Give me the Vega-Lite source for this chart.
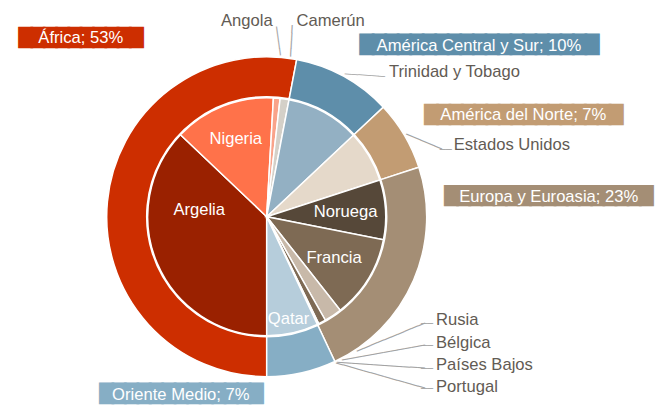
{
  "$schema": "https://vega.github.io/schema/vega-lite/v6.json",
  "width": 533.4,
  "height": 398.6,
  "autosize": {"type": "none"},
  "padding": {"left": 0, "top": 17.4, "right": 125.6, "bottom": 0},
  "background": "#ffffff",
  "config": {"view": {"stroke": null}},
  "datasets": {
    "regions": [
      {"region": "África", "label": "África; 53%", "pct": 53, "idx": 1},
      {"region": "América Central y Sur", "label": "América Central y Sur; 10%", "pct": 10, "idx": 2},
      {"region": "América del Norte", "label": "América del Norte; 7%", "pct": 7, "idx": 3},
      {"region": "Europa y Euroasia", "label": "Europa y Euroasia; 23%", "pct": 23, "idx": 4},
      {"region": "Oriente Medio", "label": "Oriente Medio; 7%", "pct": 7, "idx": 5}
    ],
    "countries": [
      {"country": "Argelia", "region": "África", "pct": 37.1, "idx": 1},
      {"country": "Nigeria", "region": "África", "pct": 13.8, "idx": 2},
      {"country": "Angola", "region": "África", "pct": 0.9, "idx": 3},
      {"country": "Camerún", "region": "África", "pct": 1.2, "idx": 4},
      {"country": "Trinidad y Tobago", "region": "América Central y Sur", "pct": 10, "idx": 5},
      {"country": "Estados Unidos", "region": "América del Norte", "pct": 7, "idx": 6},
      {"country": "Noruega", "region": "Europa y Euroasia", "pct": 8.1, "idx": 7},
      {"country": "Francia", "region": "Europa y Euroasia", "pct": 11.3, "idx": 8},
      {"country": "Rusia", "region": "Europa y Euroasia", "pct": 2.4, "idx": 9},
      {"country": "Bélgica", "region": "Europa y Euroasia", "pct": 1.0, "idx": 10},
      {"country": "Países Bajos", "region": "Europa y Euroasia", "pct": 0.1, "idx": 11},
      {"country": "Portugal", "region": "Europa y Euroasia", "pct": 0.1, "idx": 12},
      {"country": "Qatar", "region": "Oriente Medio", "pct": 7, "idx": 13}
    ]
  },
  "layer": [
    {"data": {"name": "regions"}, "mark": {"type": "arc", "outerRadius": 160, "innerRadius": 120, "stroke": "#ffffff", "strokeWidth": 1.5},
     "encoding": {"theta": {"field": "pct", "type": "quantitative", "stack": true, "scale": {"domain": [0, 100], "range": [3.141592653589793, 9.42477796076938]}},
       "order": {"field": "idx", "type": "quantitative"},
       "color": {"field": "region", "type": "nominal", "legend": null, "scale": {"domain": ["África", "América Central y Sur", "América del Norte", "Europa y Euroasia", "Oriente Medio"], "range": ["#CD2E00", "#5E8EAA", "#C29C73", "#A48E75", "#86AEC5"]}}}},
    {"data": {"name": "countries"}, "mark": {"type": "arc", "outerRadius": 119, "stroke": "#ffffff", "strokeWidth": 1.5},
     "encoding": {"theta": {"field": "pct", "type": "quantitative", "stack": true, "scale": {"domain": [0, 100], "range": [3.141592653589793, 9.42477796076938]}},
       "order": {"field": "idx", "type": "quantitative"},
       "color": {"field": "country", "type": "nominal", "legend": null, "scale": {"domain": ["Argelia", "Nigeria", "Angola", "Camerún", "Trinidad y Tobago", "Estados Unidos", "Noruega", "Francia", "Rusia", "Bélgica", "Países Bajos", "Portugal", "Qatar"], "range": ["#9A2100", "#FF724A", "#F9A38A", "#D4D0C8", "#93B0C3", "#E5D9CA", "#564839", "#7E6A54", "#C8B9A9", "#7E6A54", "#A48E75", "#564839", "#B6CDDB"]}}}},
    {"data": {"name": "countries"}, "mark": {"type": "text", "radius": 84, "align": "center", "baseline": "middle", "font": "Liberation Sans", "fontSize": 16.6, "fill": "#ffffff"},
     "encoding": {"theta": {"field": "pct", "type": "quantitative", "stack": true, "scale": {"domain": [0, 100], "range": [3.141592653589793, 9.42477796076938]}}, "order": {"field": "idx", "type": "quantitative"}, "detail": {"field": "country"},
       "text": {"condition": {"test": "datum.country === 'Nigeria'", "field": "country"}, "value": ""}}},
    {"data": {"name": "countries"}, "mark": {"type": "text", "radius": 79, "align": "center", "baseline": "middle", "font": "Liberation Sans", "fontSize": 16.6, "fill": "#ffffff"},
     "encoding": {"theta": {"field": "pct", "type": "quantitative", "stack": true, "scale": {"domain": [0, 100], "range": [3.141592653589793, 9.42477796076938]}}, "order": {"field": "idx", "type": "quantitative"}, "detail": {"field": "country"},
       "text": {"condition": {"test": "datum.country === 'Noruega' || datum.country === 'Francia'", "field": "country"}, "value": ""}}},
    {"data": {"name": "countries"}, "mark": {"type": "text", "radius": 68, "dx": -5, "dy": -34, "align": "center", "baseline": "middle", "font": "Liberation Sans", "fontSize": 16.6, "fill": "#ffffff"},
     "encoding": {"theta": {"field": "pct", "type": "quantitative", "stack": true, "scale": {"domain": [0, 100], "range": [3.141592653589793, 9.42477796076938]}}, "order": {"field": "idx", "type": "quantitative"}, "detail": {"field": "country"},
       "text": {"condition": {"test": "datum.country === 'Argelia'", "field": "country"}, "value": ""}}},
    {"data": {"name": "countries"}, "mark": {"type": "text", "radius": 105, "dx": -1, "align": "center", "baseline": "middle", "font": "Liberation Sans", "fontSize": 16.6, "fill": "#ffffff"},
     "encoding": {"theta": {"field": "pct", "type": "quantitative", "stack": true, "scale": {"domain": [0, 100], "range": [3.141592653589793, 9.42477796076938]}}, "order": {"field": "idx", "type": "quantitative"}, "detail": {"field": "country"},
       "text": {"condition": {"test": "datum.country === 'Qatar'", "field": "country"}, "value": ""}}},

    {"data": {"name": "regions"}, "mark": {"type": "text", "radius": 200, "dx": -48.04, "dy": -159.64, "align": "left", "baseline": "middle", "font": "DejaVu Sans", "fontSize": 16.0, "fill": "#CD2E00", "stroke": "#CD2E00", "strokeWidth": 2.5, "strokeJoin": "miter"},
     "encoding": {"theta": {"field": "pct", "type": "quantitative", "stack": true, "scale": {"domain": [0, 100], "range": [3.141592653589793, 9.42477796076938]}}, "order": {"field": "idx", "type": "quantitative"}, "detail": {"field": "region"},
       "text": {"condition": {"test": "datum.region === 'África'", "value": "██████████"}, "value": ""}}},
    {"data": {"name": "regions"}, "mark": {"type": "text", "radius": 200, "dx": -2.5, "dy": 3.81, "align": "left", "baseline": "middle", "font": "DejaVu Sans", "fontSize": 16.28, "fill": "#5E8EAA", "stroke": "#5E8EAA", "strokeWidth": 2.5, "strokeJoin": "miter"},
     "encoding": {"theta": {"field": "pct", "type": "quantitative", "stack": true, "scale": {"domain": [0, 100], "range": [3.141592653589793, 9.42477796076938]}}, "order": {"field": "idx", "type": "quantitative"}, "detail": {"field": "region"},
       "text": {"condition": {"test": "datum.region === 'América Central y Sur'", "value": "███████████████████"}, "value": ""}}},
    {"data": {"name": "regions"}, "mark": {"type": "text", "radius": 200, "dx": -13.6, "dy": 0.35, "align": "left", "baseline": "middle", "font": "DejaVu Sans", "fontSize": 16.03, "fill": "#C29C73", "stroke": "#C29C73", "strokeWidth": 2.5, "strokeJoin": "miter"},
     "encoding": {"theta": {"field": "pct", "type": "quantitative", "stack": true, "scale": {"domain": [0, 100], "range": [3.141592653589793, 9.42477796076938]}}, "order": {"field": "idx", "type": "quantitative"}, "detail": {"field": "region"},
       "text": {"condition": {"test": "datum.region === 'América del Norte'", "value": "████████████████"}, "value": ""}}},
    {"data": {"name": "regions"}, "mark": {"type": "text", "radius": 200, "dx": -5.0, "dy": -99.9, "align": "left", "baseline": "middle", "font": "DejaVu Sans", "fontSize": 15.85, "fill": "#A48E75", "stroke": "#A48E75", "strokeWidth": 2.5, "strokeJoin": "miter"},
     "encoding": {"theta": {"field": "pct", "type": "quantitative", "stack": true, "scale": {"domain": [0, 100], "range": [3.141592653589793, 9.42477796076938]}}, "order": {"field": "idx", "type": "quantitative"}, "detail": {"field": "region"},
       "text": {"condition": {"test": "datum.region === 'Europa y Euroasia'", "value": "█████████████████"}, "value": ""}}},
    {"data": {"name": "regions"}, "mark": {"type": "text", "radius": 200, "dx": -210.1, "dy": -17.43, "align": "left", "baseline": "middle", "font": "DejaVu Sans", "fontSize": 16.23, "fill": "#86AEC5", "stroke": "#86AEC5", "strokeWidth": 2.5, "strokeJoin": "miter"},
     "encoding": {"theta": {"field": "pct", "type": "quantitative", "stack": true, "scale": {"domain": [0, 100], "range": [3.141592653589793, 9.42477796076938]}}, "order": {"field": "idx", "type": "quantitative"}, "detail": {"field": "region"},
       "text": {"condition": {"test": "datum.region === 'Oriente Medio'", "value": "█████████████"}, "value": ""}}},

    {"data": {"name": "regions"}, "mark": {"type": "text", "radius": 200, "dx": 13.2, "dy": -160.1, "align": "center", "baseline": "middle", "font": "Liberation Sans", "fontSize": 16.6, "fill": "#ffffff"},
     "encoding": {"theta": {"field": "pct", "type": "quantitative", "stack": true, "scale": {"domain": [0, 100], "range": [3.141592653589793, 9.42477796076938]}}, "order": {"field": "idx", "type": "quantitative"}, "detail": {"field": "region"},
       "text": {"condition": {"test": "datum.region === 'África'", "field": "label"}, "value": ""}}},
    {"data": {"name": "regions"}, "mark": {"type": "text", "radius": 200, "dx": 115.9, "dy": 4.4, "align": "center", "baseline": "middle", "font": "Liberation Sans", "fontSize": 16.6, "fill": "#ffffff"},
     "encoding": {"theta": {"field": "pct", "type": "quantitative", "stack": true, "scale": {"domain": [0, 100], "range": [3.141592653589793, 9.42477796076938]}}, "order": {"field": "idx", "type": "quantitative"}, "detail": {"field": "region"},
       "text": {"condition": {"test": "datum.region === 'América Central y Sur'", "field": "label"}, "value": ""}}},
    {"data": {"name": "regions"}, "mark": {"type": "text", "radius": 200, "dx": 84.5, "dy": 0.3, "align": "center", "baseline": "middle", "font": "Liberation Sans", "fontSize": 16.6, "fill": "#ffffff"},
     "encoding": {"theta": {"field": "pct", "type": "quantitative", "stack": true, "scale": {"domain": [0, 100], "range": [3.141592653589793, 9.42477796076938]}}, "order": {"field": "idx", "type": "quantitative"}, "detail": {"field": "region"},
       "text": {"condition": {"test": "datum.region === 'América del Norte'", "field": "label"}, "value": ""}}},
    {"data": {"name": "regions"}, "mark": {"type": "text", "radius": 200, "dx": 98.5, "dy": -99.1, "align": "center", "baseline": "middle", "font": "Liberation Sans", "fontSize": 16.6, "fill": "#ffffff"},
     "encoding": {"theta": {"field": "pct", "type": "quantitative", "stack": true, "scale": {"domain": [0, 100], "range": [3.141592653589793, 9.42477796076938]}}, "order": {"field": "idx", "type": "quantitative"}, "detail": {"field": "region"},
       "text": {"condition": {"test": "datum.region === 'Europa y Euroasia'", "field": "label"}, "value": ""}}},
    {"data": {"name": "regions"}, "mark": {"type": "text", "radius": 200, "dx": -129.5, "dy": -16.7, "align": "center", "baseline": "middle", "font": "Liberation Sans", "fontSize": 16.6, "fill": "#ffffff"},
     "encoding": {"theta": {"field": "pct", "type": "quantitative", "stack": true, "scale": {"domain": [0, 100], "range": [3.141592653589793, 9.42477796076938]}}, "order": {"field": "idx", "type": "quantitative"}, "detail": {"field": "region"},
       "text": {"condition": {"test": "datum.region === 'Oriente Medio'", "field": "label"}, "value": ""}}},

    {"data": {"name": "countries"}, "mark": {"type": "text", "radius": 195, "dx": -10.5, "dy": -1.4, "align": "right", "baseline": "middle", "font": "Liberation Sans", "fontSize": 16.6, "fill": "#625B54"},
     "encoding": {"theta": {"field": "pct", "type": "quantitative", "stack": true, "scale": {"domain": [0, 100], "range": [3.141592653589793, 9.42477796076938]}}, "order": {"field": "idx", "type": "quantitative"}, "detail": {"field": "country"},
       "text": {"condition": {"test": "datum.country === 'Angola'", "field": "country"}, "value": ""}}},
    {"data": {"name": "countries"}, "mark": {"type": "text", "radius": 198, "align": "left", "baseline": "middle", "font": "Liberation Sans", "fontSize": 16.6, "fill": "#625B54"},
     "encoding": {"theta": {"field": "pct", "type": "quantitative", "stack": true, "scale": {"domain": [0, 100], "range": [3.141592653589793, 9.42477796076938]}}, "order": {"field": "idx", "type": "quantitative"}, "detail": {"field": "country"},
       "text": {"condition": {"test": "datum.country === 'Camerún'", "field": "country"}, "value": ""}}},
    {"data": {"name": "countries"}, "mark": {"type": "text", "radius": 175, "dx": 38, "dy": 9, "align": "left", "baseline": "middle", "font": "Liberation Sans", "fontSize": 16.6, "fill": "#625B54"},
     "encoding": {"theta": {"field": "pct", "type": "quantitative", "stack": true, "scale": {"domain": [0, 100], "range": [3.141592653589793, 9.42477796076938]}}, "order": {"field": "idx", "type": "quantitative"}, "detail": {"field": "country"},
       "text": {"condition": {"test": "datum.country === 'Trinidad y Tobago'", "field": "country"}, "value": ""}}},
    {"data": {"name": "countries"}, "mark": {"type": "text", "radius": 175, "dx": 36.4, "dy": 16.9, "align": "left", "baseline": "middle", "font": "Liberation Sans", "fontSize": 16.6, "fill": "#625B54"},
     "encoding": {"theta": {"field": "pct", "type": "quantitative", "stack": true, "scale": {"domain": [0, 100], "range": [3.141592653589793, 9.42477796076938]}}, "order": {"field": "idx", "type": "quantitative"}, "detail": {"field": "country"},
       "text": {"condition": {"test": "datum.country === 'Estados Unidos'", "field": "country"}, "value": ""}}},
    {"data": {"name": "countries"}, "mark": {"type": "text", "radius": 175, "dx": 71.8, "dy": -42, "align": "left", "baseline": "middle", "font": "Liberation Sans", "fontSize": 16.6, "fill": "#625B54"},
     "encoding": {"theta": {"field": "pct", "type": "quantitative", "stack": true, "scale": {"domain": [0, 100], "range": [3.141592653589793, 9.42477796076938]}}, "order": {"field": "idx", "type": "quantitative"}, "detail": {"field": "country"},
       "text": {"condition": {"test": "datum.country === 'Rusia'", "field": "country"}, "value": ""}}},
    {"data": {"name": "countries"}, "mark": {"type": "text", "radius": 175, "dx": 87.9, "dy": -28.9, "align": "left", "baseline": "middle", "font": "Liberation Sans", "fontSize": 16.6, "fill": "#625B54"},
     "encoding": {"theta": {"field": "pct", "type": "quantitative", "stack": true, "scale": {"domain": [0, 100], "range": [3.141592653589793, 9.42477796076938]}}, "order": {"field": "idx", "type": "quantitative"}, "detail": {"field": "country"},
       "text": {"condition": {"test": "datum.country === 'Bélgica'", "field": "country"}, "value": ""}}},
    {"data": {"name": "countries"}, "mark": {"type": "text", "radius": 175, "dx": 93.3, "dy": -9.3, "align": "left", "baseline": "middle", "font": "Liberation Sans", "fontSize": 16.6, "fill": "#625B54"},
     "encoding": {"theta": {"field": "pct", "type": "quantitative", "stack": true, "scale": {"domain": [0, 100], "range": [3.141592653589793, 9.42477796076938]}}, "order": {"field": "idx", "type": "quantitative"}, "detail": {"field": "country"},
       "text": {"condition": {"test": "datum.country === 'Países Bajos'", "field": "country"}, "value": ""}}},
    {"data": {"name": "countries"}, "mark": {"type": "text", "radius": 175, "dx": 94.3, "dy": 12, "align": "left", "baseline": "middle", "font": "Liberation Sans", "fontSize": 16.6, "fill": "#625B54"},
     "encoding": {"theta": {"field": "pct", "type": "quantitative", "stack": true, "scale": {"domain": [0, 100], "range": [3.141592653589793, 9.42477796076938]}}, "order": {"field": "idx", "type": "quantitative"}, "detail": {"field": "country"},
       "text": {"condition": {"test": "datum.country === 'Portugal'", "field": "country"}, "value": ""}}},

    {"data": {"name": "countries"}, "mark": {"type": "text", "radius": 162, "angle": 262.6, "align": "left", "baseline": "middle", "font": "DejaVu Sans", "fontSize": 11.96, "fill": "#A3A3A3"},
     "encoding": {"theta": {"field": "pct", "type": "quantitative", "stack": true, "scale": {"domain": [0, 100], "range": [3.141592653589793, 9.42477796076938]}}, "order": {"field": "idx", "type": "quantitative"}, "detail": {"field": "country"},
       "text": {"condition": {"test": "datum.country === 'Angola'", "value": "────"}, "value": ""}}},
    {"data": {"name": "countries"}, "mark": {"type": "text", "radius": 162, "angle": 273.1, "align": "left", "baseline": "middle", "font": "DejaVu Sans", "fontSize": 13.08, "fill": "#A3A3A3"},
     "encoding": {"theta": {"field": "pct", "type": "quantitative", "stack": true, "scale": {"domain": [0, 100], "range": [3.141592653589793, 9.42477796076938]}}, "order": {"field": "idx", "type": "quantitative"}, "detail": {"field": "country"},
       "text": {"condition": {"test": "datum.country === 'Camerún'", "value": "────"}, "value": ""}}},
    {"data": {"name": "countries"}, "mark": {"type": "text", "radius": 162, "angle": 3.7, "align": "left", "baseline": "middle", "font": "DejaVu Sans", "fontSize": 11.18, "fill": "#A3A3A3"},
     "encoding": {"theta": {"field": "pct", "type": "quantitative", "stack": true, "scale": {"domain": [0, 100], "range": [3.141592653589793, 9.42477796076938]}}, "order": {"field": "idx", "type": "quantitative"}, "detail": {"field": "country"},
       "text": {"condition": {"test": "datum.country === 'Trinidad y Tobago'", "value": "──────"}, "value": ""}}},
    {"data": {"name": "countries"}, "mark": {"type": "text", "radius": 162, "angle": 23, "align": "left", "baseline": "middle", "font": "DejaVu Sans", "fontSize": 12.86, "fill": "#A3A3A3"},
     "encoding": {"theta": {"field": "pct", "type": "quantitative", "stack": true, "scale": {"domain": [0, 100], "range": [3.141592653589793, 9.42477796076938]}}, "order": {"field": "idx", "type": "quantitative"}, "detail": {"field": "country"},
       "text": {"condition": {"test": "datum.country === 'Estados Unidos'", "value": "─────"}, "value": ""}}},
    {"data": {"name": "countries"}, "mark": {"type": "text", "radius": 162, "angle": 337.65, "align": "left", "baseline": "middle", "font": "DejaVu Sans", "fontSize": 12.23, "fill": "#A3A3A3"},
     "encoding": {"theta": {"field": "pct", "type": "quantitative", "stack": true, "scale": {"domain": [0, 100], "range": [3.141592653589793, 9.42477796076938]}}, "order": {"field": "idx", "type": "quantitative"}, "detail": {"field": "country"},
       "text": {"condition": {"test": "datum.country === 'Rusia'", "value": "──────────"}, "value": ""}}},
    {"data": {"name": "countries"}, "mark": {"type": "text", "radius": 162, "angle": 349.7, "align": "left", "baseline": "middle", "font": "DejaVu Sans", "fontSize": 11.68, "fill": "#A3A3A3"},
     "encoding": {"theta": {"field": "pct", "type": "quantitative", "stack": true, "scale": {"domain": [0, 100], "range": [3.141592653589793, 9.42477796076938]}}, "order": {"field": "idx", "type": "quantitative"}, "detail": {"field": "country"},
       "text": {"condition": {"test": "datum.country === 'Bélgica'", "value": "────────────"}, "value": ""}}},
    {"data": {"name": "countries"}, "mark": {"type": "text", "radius": 162, "angle": 3.7, "align": "left", "baseline": "middle", "font": "DejaVu Sans", "fontSize": 12.2, "fill": "#A3A3A3"},
     "encoding": {"theta": {"field": "pct", "type": "quantitative", "stack": true, "scale": {"domain": [0, 100], "range": [3.141592653589793, 9.42477796076938]}}, "order": {"field": "idx", "type": "quantitative"}, "detail": {"field": "country"},
       "text": {"condition": {"test": "datum.country === 'Países Bajos'", "value": "────────────"}, "value": ""}}},
    {"data": {"name": "countries"}, "mark": {"type": "text", "radius": 162, "angle": 15.8, "align": "left", "baseline": "middle", "font": "DejaVu Sans", "fontSize": 11.81, "fill": "#A3A3A3"},
     "encoding": {"theta": {"field": "pct", "type": "quantitative", "stack": true, "scale": {"domain": [0, 100], "range": [3.141592653589793, 9.42477796076938]}}, "order": {"field": "idx", "type": "quantitative"}, "detail": {"field": "country"},
       "text": {"condition": {"test": "datum.country === 'Portugal'", "value": "─────────────"}, "value": ""}}},

    {"data": {"name": "countries"}, "mark": {"type": "text", "radius": 175, "dx": 34.4, "dy": 22.2, "align": "right", "baseline": "middle", "font": "DejaVu Sans", "fontSize": 10, "fill": "#A3A3A3"},
     "encoding": {"theta": {"field": "pct", "type": "quantitative", "stack": true, "scale": {"domain": [0, 100], "range": [3.141592653589793, 9.42477796076938]}}, "order": {"field": "idx", "type": "quantitative"}, "detail": {"field": "country"},
       "text": {"condition": {"test": "datum.country === 'Estados Unidos'", "value": "──"}, "value": ""}}},
    {"data": {"name": "countries"}, "mark": {"type": "text", "radius": 175, "dx": 68.8, "dy": -38.2, "align": "right", "baseline": "middle", "font": "DejaVu Sans", "fontSize": 10, "fill": "#A3A3A3"},
     "encoding": {"theta": {"field": "pct", "type": "quantitative", "stack": true, "scale": {"domain": [0, 100], "range": [3.141592653589793, 9.42477796076938]}}, "order": {"field": "idx", "type": "quantitative"}, "detail": {"field": "country"},
       "text": {"condition": {"test": "datum.country === 'Rusia'", "value": "──"}, "value": ""}}},
    {"data": {"name": "countries"}, "mark": {"type": "text", "radius": 175, "dx": 84.9, "dy": -26.1, "align": "right", "baseline": "middle", "font": "DejaVu Sans", "fontSize": 10, "fill": "#A3A3A3"},
     "encoding": {"theta": {"field": "pct", "type": "quantitative", "stack": true, "scale": {"domain": [0, 100], "range": [3.141592653589793, 9.42477796076938]}}, "order": {"field": "idx", "type": "quantitative"}, "detail": {"field": "country"},
       "text": {"condition": {"test": "datum.country === 'Bélgica'", "value": "──"}, "value": ""}}},
    {"data": {"name": "countries"}, "mark": {"type": "text", "radius": 175, "dx": 90.3, "dy": -5.5, "align": "right", "baseline": "middle", "font": "DejaVu Sans", "fontSize": 10, "fill": "#A3A3A3"},
     "encoding": {"theta": {"field": "pct", "type": "quantitative", "stack": true, "scale": {"domain": [0, 100], "range": [3.141592653589793, 9.42477796076938]}}, "order": {"field": "idx", "type": "quantitative"}, "detail": {"field": "country"},
       "text": {"condition": {"test": "datum.country === 'Países Bajos'", "value": "──"}, "value": ""}}},
    {"data": {"name": "countries"}, "mark": {"type": "text", "radius": 175, "dx": 91.3, "dy": 14, "align": "right", "baseline": "middle", "font": "DejaVu Sans", "fontSize": 10, "fill": "#A3A3A3"},
     "encoding": {"theta": {"field": "pct", "type": "quantitative", "stack": true, "scale": {"domain": [0, 100], "range": [3.141592653589793, 9.42477796076938]}}, "order": {"field": "idx", "type": "quantitative"}, "detail": {"field": "country"},
       "text": {"condition": {"test": "datum.country === 'Portugal'", "value": "──"}, "value": ""}}}
  ],
  "resolve": {"scale": {"color": "independent"}}
}
